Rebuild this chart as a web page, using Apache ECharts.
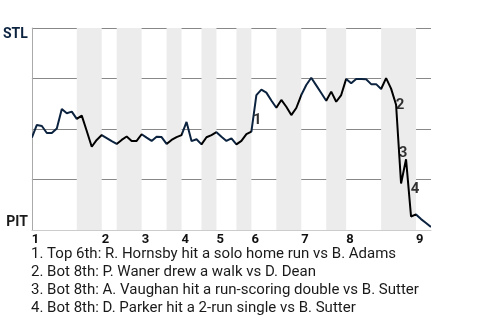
<!DOCTYPE html>
<html>
<head>
<meta charset="utf-8">
<script src="https://cdn.jsdelivr.net/npm/echarts@6/dist/echarts.min.js"></script>
<style>
  html, body { margin: 0; padding: 0; background: #fff; }
  #chart { width: 480px; height: 320px; }
</style>
</head>
<body>
<div id="chart"></div>
<script>
// STL win probability after each plate appearance (event index 0..80)
const winProb = [
  0.457, 0.52, 0.515, 0.48, 0.48, 0.503, 0.599, 0.578, 0.586, 0.55,
  0.566, 0.49, 0.412, 0.446, 0.47, 0.455, 0.44, 0.426, 0.446, 0.463,
  0.441, 0.441, 0.474, 0.457, 0.441, 0.462, 0.46, 0.426, 0.446, 0.46,
  0.47, 0.535, 0.44, 0.449, 0.424, 0.459, 0.47, 0.484, 0.462, 0.441,
  0.454, 0.424, 0.441, 0.475, 0.487, 0.668, 0.695, 0.68, 0.641, 0.605,
  0.644, 0.61, 0.569, 0.604, 0.668, 0.718, 0.754, 0.716, 0.678, 0.64,
  0.685, 0.635, 0.668, 0.748, 0.726, 0.748, 0.748, 0.746, 0.722, 0.722,
  0.698, 0.752, 0.7, 0.62, 0.23, 0.35, 0.067, 0.077, 0.054, 0.035,
  0.015
];
// event index where each inning starts (top half) and where the bottom half starts
const inningStart = [0, 14, 22, 30, 37, 44, 54, 63, 77];
const bottomStart = [9, 17, 27, 34, 41, 49, 59, 70];
const lastEvent = 80;

const teams = { top: 'STL', bottom: 'PIT' };

// key plays: event index + label
const keyIdx = [44, 73, 75, 76];
const keyText = ['1', '2', '3', '4'];
const keyOffset = [[6, -11], [4, 0], [-3, -6], [4, -27]];

const notes = [
  '1. Top 6th: R. Hornsby hit a solo home run vs B. Adams',
  '2. Bot 8th: P. Waner drew a walk vs D. Dean',
  '3. Bot 8th: A. Vaughan hit a run-scoring double vs B. Sutter',
  '4. Bot 8th: D. Parker hit a 2-run single vs B. Sutter'
];

const NAVY = '#0c2340';
const FONT = 'Roboto, "Noto Sans", sans-serif';

const chart = echarts.init(document.getElementById('chart'));

const bands = bottomStart.map((b, i) => [{ xAxis: b }, { xAxis: inningStart[i + 1] }]);

// line colour: navy while STL bats (top), black while PIT bats (bottom)
const pieces = [];
inningStart.forEach((s, i) => {
  const b = bottomStart[i];
  if (b !== undefined) {
    pieces.push({ gte: s, lt: b, color: NAVY });
    pieces.push({ gte: b, lt: inningStart[i + 1], color: '#000' });
  } else {
    pieces.push({ gte: s, lte: lastEvent, color: NAVY });
  }
});

const option = {
  animation: false,
  grid: { left: 31, right: 49, top: 28, bottom: 90 },
  xAxis: {
    type: 'value',
    min: 0,
    max: lastEvent,
    splitLine: { show: false },
    axisTick: { show: false },
    axisLine: { lineStyle: { color: '#ccc', width: 1 } },
    axisLabel: {
      customValues: inningStart,
      formatter: v => String(inningStart.indexOf(v) + 1),
      align: 'left',
      margin: 3,
      color: '#111',
      fontWeight: 'bold',
      fontSize: 13,
      fontFamily: FONT
    }
  },
  yAxis: {
    type: 'value',
    min: 0,
    max: 1,
    interval: 0.25,
    axisTick: { show: false },
    axisLine: { show: true, lineStyle: { color: '#aaa' } },
    splitLine: { lineStyle: { color: ['#ccc', '#888', '#888', '#888', '#888'], width: 1 } },
    axisLabel: {
      margin: 4,
      formatter: v => v === 1 ? '{t|' + teams.top + '}' : (v === 0 ? '{b|' + teams.bottom + '}' : ''),
      rich: {
        t: { color: NAVY, fontWeight: 'bold', fontSize: 14, fontFamily: FONT, padding: [12, 0, 0, 0] },
        b: { color: '#1a1a1a', fontWeight: 'bold', fontSize: 14, fontFamily: FONT, padding: [0, 0, 16, 0] }
      }
    }
  },
  visualMap: {
    show: false,
    type: 'piecewise',
    dimension: 0,
    seriesIndex: 0,
    pieces: pieces
  },
  series: [
    {
      type: 'line',
      data: winProb.map((p, i) => [i, p]),
      showSymbol: false,
      lineStyle: { width: 2 },
      z: 3,
      markArea: {
        silent: true,
        itemStyle: { color: '#ececec' },
        data: bands
      }
    },
    {
      type: 'scatter',
      symbolSize: 0,
      z: 4,
      data: keyIdx.map((k, i) => ({
        value: [k, winProb[k]],
        label: {
          show: true,
          position: 'inside',
          formatter: keyText[i],
          offset: keyOffset[i],
          color: '#000',
          fontSize: 15,
          fontWeight: 'bold',
          fontFamily: FONT
        }
      }))
    }
  ],
  graphic: [
    {
      type: 'text',
      left: 31,
      top: 245,
      style: {
        text: notes.join('\n'),
        font: '15px ' + FONT,
        lineHeight: 18,
        fill: '#1a1a1a'
      }
    }
  ]
};

chart.setOption(option);
</script>
</body>
</html>
